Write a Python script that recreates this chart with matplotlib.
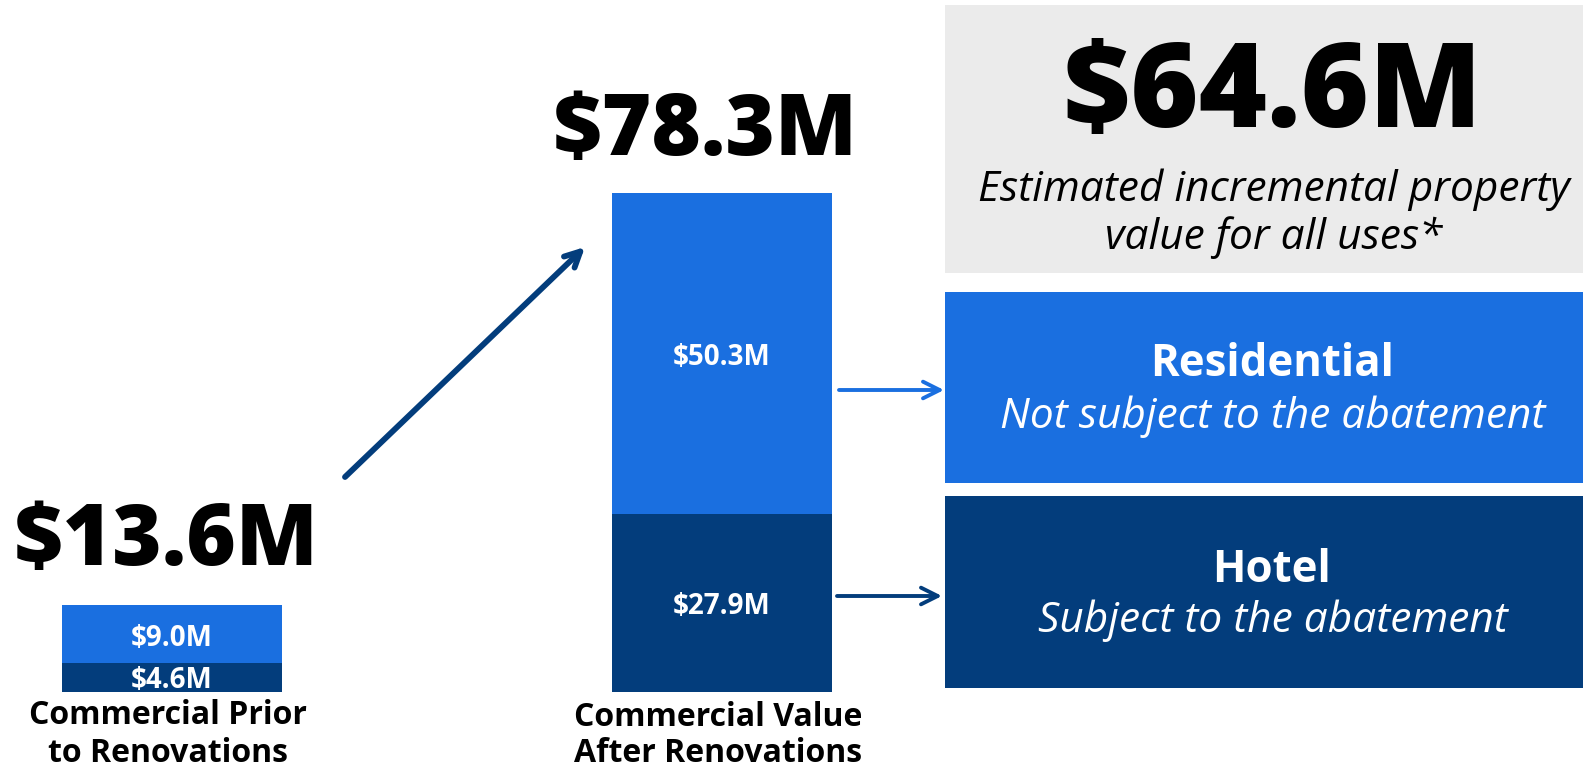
import matplotlib
matplotlib.use("Agg")
import matplotlib.pyplot as plt
from matplotlib.patches import Rectangle

# ---- data ----
categories = ["Commercial Prior\nto Renovations", "Commercial Value\nAfter Renovations"]
hotel_vals = [4.6, 27.9]        # bottom segment ($M)
resid_vals = [9.0, 50.3]        # top segment ($M)
total_vals = [13.6, 78.3]
incremental_total = 64.6
box_titles = ["Residential", "Hotel"]
box_subtitles = ["Not subject to the abatement", "Subject to the abatement"]
headline_note = "Estimated incremental property\nvalue for all uses*"

# ---- style ----
BLUE = "#1a6fe0"
NAVY = "#033d7c"
GRAY = "#ebebeb"
FONT = ["Open Sans", "DejaVu Sans"]
plt.rcParams["font.family"] = FONT

W, H = 1583, 768
DPI = 100
fig = plt.figure(figsize=(W / DPI, H / DPI), dpi=DPI)
fig.patch.set_facecolor("white")

# axes spanning full figure: x in pixels, y in $M
base_px = 692.0
px_per_m = 500.0 / 78.3
ax = fig.add_axes([0, 0, 1, 1])
ax.set_xlim(0, W)
ax.set_ylim((base_px - H) / px_per_m, base_px / px_per_m)
ax.axis("off")

def P(x, y):
    """pixel (from top-left) -> figure fraction"""
    return (x / W, 1 - y / H)

bar_x = [172, 722]
bar_w = 220
b1 = ax.bar(bar_x, hotel_vals, width=bar_w, color=NAVY, zorder=2)
b2 = ax.bar(bar_x, resid_vals, width=bar_w, bottom=hotel_vals, color=BLUE, zorder=2)
ax.bar_label(b1, labels=[f"${v:.1f}M" for v in hotel_vals], label_type="center",
             padding=-2.5, color="white", fontsize=20, fontweight="bold", zorder=3)
ax.bar_label(b2, labels=[f"${v:.1f}M" for v in resid_vals], label_type="center",
             padding=-3, color="white", fontsize=20, fontweight="bold", zorder=3)

# totals above bars
total_pos = [(166, 542), (705, 132)]
for (x, y), v in zip(total_pos, total_vals):
    fig.text(*P(x, y), f"${v:.1f}M", ha="center", va="center", fontsize=61,
             fontweight="heavy", color="black")

# category labels below bars (white box hides the bottom of the small bar)
fig.text(*P(168, 734), categories[0], ha="center", va="center", fontsize=23,
         fontweight="bold", color="black", linespacing=1.2, zorder=5,
         bbox=dict(facecolor="white", edgecolor="none", pad=2))
fig.text(*P(718, 735), categories[1], ha="center", va="center", fontsize=23,
         fontweight="bold", color="black", linespacing=1.12, zorder=5)

# arrows
fig_ax = fig.add_axes([0, 0, 1, 1], facecolor="none")
fig_ax.set_xlim(0, W)
fig_ax.set_ylim(H, 0)
fig_ax.axis("off")
fig_ax.annotate("", xy=(585, 247), xytext=(345, 477),
                arrowprops=dict(arrowstyle="->,head_length=1.1,head_width=0.55",
                                color=NAVY, lw=4.2, shrinkA=0, shrinkB=0))
fig_ax.annotate("", xy=(944, 390), xytext=(839, 390),
                arrowprops=dict(arrowstyle="->,head_length=1.2,head_width=0.6",
                                color=BLUE, lw=2.8, shrinkA=0, shrinkB=0))
fig_ax.annotate("", xy=(942, 596), xytext=(837, 596),
                arrowprops=dict(arrowstyle="->,head_length=1.2,head_width=0.6",
                                color=NAVY, lw=2.8, shrinkA=0, shrinkB=0))

# right-hand boxes
fig_ax.add_patch(Rectangle((945, 5), W - 945, 268, facecolor=GRAY, edgecolor="none"))
fig_ax.add_patch(Rectangle((945, 292), W - 945, 191, facecolor=BLUE, edgecolor="none"))
fig_ax.add_patch(Rectangle((945, 496), W - 945, 192, facecolor=NAVY, edgecolor="none"))

fig_ax.text(1272, 97, f"${incremental_total:.1f}M", ha="center", va="center",
            fontsize=84, fontweight="heavy", color="black")
fig_ax.text(1274, 214, headline_note, ha="center", va="center", fontsize=30.5,
            style="italic", color="black", linespacing=1.15)

for (ty, sy), t, s in zip([(364, 417), (570, 621)], box_titles, box_subtitles):
    fig_ax.text(1272, ty, t, ha="center", va="center", fontsize=31.5,
                fontweight="bold", color="white")
    fig_ax.text(1273, sy, s, ha="center", va="center", fontsize=30.5,
                style="italic", color="white")

fig.savefig("out.png", dpi=DPI, facecolor="white")
